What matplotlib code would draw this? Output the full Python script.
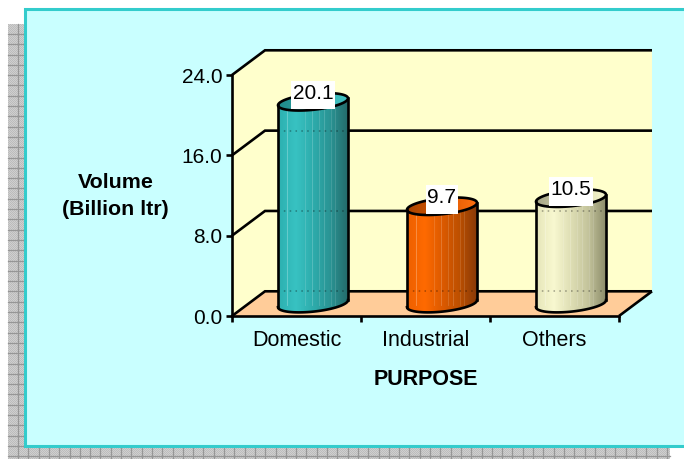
import numpy as np
import matplotlib
matplotlib.use("Agg")
import matplotlib.pyplot as plt
from matplotlib.patches import Polygon, Rectangle
from matplotlib.colors import LinearSegmentedColormap
from matplotlib.transforms import ScaledTranslation

categories = ["Domestic", "Industrial", "Others"]
values = [20.1, 9.7, 10.5]
value_ticks = [0, 8, 16, 24]
value_tick_labels = ["0.0", "8.0", "16.0", "24.0"]
y_title = "Volume\n(Billion ltr)"
x_title = "PURPOSE"
bar_colors = [
    ["#2db0b0", "#38c2c2", "#2eacac", "#2a9494", "#246c6c"],
    ["#ee6000", "#ff6a00", "#dd5a00", "#bd5000", "#8a3a08"],
    ["#e6e6ba", "#f8f8d0", "#dedeb4", "#c4c49c", "#8e8e6c"],
]
top_colors = [
    ["#1f8a8a", "#30a8a8", "#44c4c4"],
    ["#a84400", "#d85600", "#ff7010"],
    ["#a8a888", "#d4d4ac", "#f4f4cc"],
]

W, H = 684, 459
plt.rcParams["font.family"] = ["Liberation Sans", "DejaVu Sans"]
fig = plt.figure(figsize=(W / 100, H / 100), dpi=100, facecolor="white")

# page layer, pixel coordinates
bg = fig.add_axes([0, 0, 1, 1])
bg.axis("off")
yy, xx = np.indices((H - 24, 670 - 8))
bg.imshow((xx + yy) % 2, cmap=LinearSegmentedColormap.from_list("s", ["#bcbcbc", "#cfcfcf"]),
          extent=[8, 670, H, 24], interpolation="nearest", aspect="auto", zorder=1)
for g in np.arange(18, 670, 10.3):
    bg.plot([g, g], [24, H], color="#969696", lw=0.9, zorder=2)
for g in np.arange(34, H, 10.3):
    bg.plot([8, 670], [g, g], color="#969696", lw=0.9, zorder=2)
bg.add_patch(Rectangle((25, 9), W, 437, facecolor="#c9ffff", edgecolor="#33cccc", lw=2.2, zorder=3))
bg.set_xlim(0, W)
bg.set_ylim(H, 0)

# chart layer
ax = fig.add_axes([232 / W, (H - 316) / H, 387 / W, 241 / H])
ax.patch.set_alpha(0)
n = len(categories)
ymax = value_ticks[-1]
dx, dy = 33 / 129, 24.7 * ymax / 241
LW = 1.9
ax.add_patch(Polygon([(dx, dy), (n + dx, dy), (n + dx, ymax + dy), (dx, ymax + dy)],
                     facecolor="#ffffcc", edgecolor="none", clip_on=False, zorder=1))
ax.add_patch(Polygon([(0, 0), (dx, dy), (dx, ymax + dy), (0, ymax)],
                     facecolor="#ffffcc", edgecolor="none", clip_on=False, zorder=1))
ax.add_patch(Polygon([(0, 0), (n, 0), (n + dx, dy), (dx, dy)],
                     facecolor="#ffcc99", edgecolor="none", clip_on=False, zorder=1))
for v in value_ticks:
    ax.plot([0, dx, n + dx], [v, v + dy, v + dy], color="black", lw=LW, clip_on=False, zorder=2,
            solid_joinstyle="miter", solid_capstyle="butt")
ax.plot([n, n + dx], [0, dy], color="black", lw=LW, clip_on=False, zorder=2, solid_capstyle="butt")


def gradient(colors, name, poly, z):
    cmap = LinearSegmentedColormap.from_list(name, colors)
    xs = np.array([p[0] for p in poly])
    ys = np.array([p[1] for p in poly])
    ramp = np.linspace(0, 1, 70)
    im = ax.imshow(ramp[None, :], cmap=cmap, aspect="auto", vmin=0, vmax=1,
                   extent=[xs.min(), xs.max(), ys.min(), ys.max()], zorder=z, clip_on=True)
    clip = Polygon(poly, transform=ax.transData, facecolor="none", edgecolor="none")
    ax.add_patch(clip)
    im.set_clip_path(clip)
    return im


half = 35 / 129
rad_y = 8 * ymax / 241
tilt = 3.5 * ymax / 241
t = np.linspace(0, 2 * np.pi, 121)
renderer = fig.canvas.get_renderer()
for i, (val, cols, tops) in enumerate(zip(values, bar_colors, top_colors)):
    cx = i + 0.5 + dx / 2
    base = dy / 2
    ex = half * np.cos(t)
    ey = rad_y * np.sin(t) + tilt * np.cos(t)
    lower = t >= np.pi
    order = np.argsort(ex[lower])
    bx, by = ex[lower][order], ey[lower][order]
    body = list(zip(cx + bx, base + by)) + list(zip((cx + bx)[::-1], (base + val + by)[::-1]))
    gradient(cols, f"b{i}", body, 3)
    # streaks on the surface
    for f, a in zip((0.13, 0.39, 0.49, 0.58, 0.66, 0.75, 0.82),
                    (0.30, 0.16, 0.22, 0.16, 0.18, 0.14, 0.14)):
        sx = cx - half + 2 * half * f
        ax.plot([sx, sx], [base - rad_y * 0.2, base + val - rad_y * 0.2], color="white",
                lw=0.6, alpha=a, zorder=4)
    # wall lines faintly seen through the cylinder
    for v in value_ticks[:-1]:
        if v + dy < base + val - rad_y:
            ax.plot([cx - half, cx + half], [v + dy, v + dy], color="black", lw=1.4, alpha=0.28,
                    ls=(0, (0.8, 2.2)), zorder=4)
    cap = list(zip(cx + ex, base + val + ey))
    gradient(tops, f"t{i}", cap, 5)
    ax.add_patch(Polygon(cap, closed=True, facecolor="none", edgecolor="black", lw=LW, zorder=6))
    ax.plot(cx + bx, base + by, color="black", lw=LW, zorder=6)
    ax.plot([cx - half, cx - half], [base - tilt, base + val - tilt], color="black", lw=LW, zorder=6)
    ax.plot([cx + half, cx + half], [base + tilt, base + val + tilt], color="black", lw=LW, zorder=6)
    label = ax.annotate(f"{val:.1f}", (cx, base + val), xytext=(0, 8.3), textcoords="offset pixels",
                        ha="center", va="center", fontsize=15, color="black", zorder=8)
    box_w = label.get_window_extent(renderer).width + 3
    anchor = ScaledTranslation(cx, base + val, ax.transData)
    ax.add_patch(Rectangle((-box_w / 2, -7.5), box_w, 28.5, transform=anchor, facecolor="white",
                           edgecolor="none", clip_on=False, zorder=7))

ax.set_xlim(0, n)
ax.set_ylim(0, ymax)
for s in ("top", "right"):
    ax.spines[s].set_visible(False)
for s in ("left", "bottom"):
    ax.spines[s].set_linewidth(LW)
    ax.spines[s].set_zorder(2.5)
ax.set_yticks(value_ticks, value_tick_labels)
ax.set_xticks(range(n + 1), [""] * (n + 1))
ax.set_xticks(np.arange(n) + 0.5, categories, minor=True)
ax.tick_params(axis="both", which="major", length=4.3, width=LW, labelsize=15, pad=2.5)
ax.tick_params(axis="x", which="minor", length=0, labelsize=15.5, pad=9.8)
ax.set_xlabel(x_title, fontsize=15.5, fontweight="bold", labelpad=13)
fig.text(115.5 / W, 1 - 196 / H, y_title, ha="center", va="center", fontsize=15.4,
         fontweight="bold", linespacing=1.53)

fig.savefig("out.png", dpi=100)
